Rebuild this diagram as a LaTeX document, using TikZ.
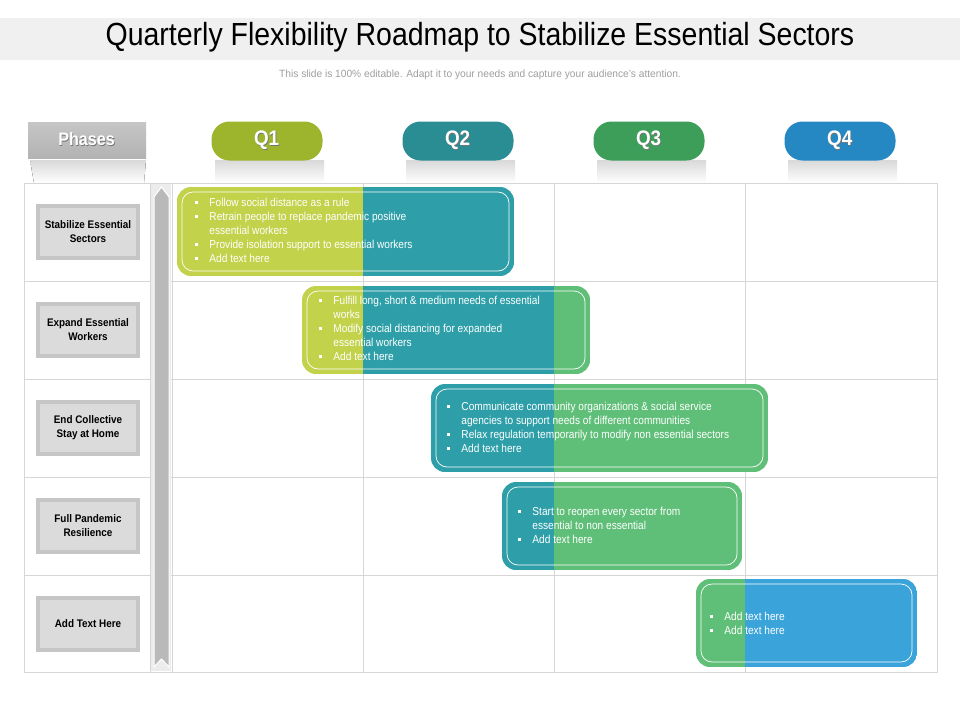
\documentclass[tikz,border=0pt]{standalone}
\usepackage{fontspec}
\setmainfont{Liberation Sans}
\usepackage{graphicx}
\usetikzlibrary{shadows}
\newcommand\cnd[1]{\scalebox{0.9}[1]{#1}}
\definecolor{lime}{HTML}{C2D24A}
\definecolor{tealc}{HTML}{2E9FA8}
\definecolor{grn}{HTML}{5FBF78}
\definecolor{blu}{HTML}{3AA3DA}
\definecolor{qone}{HTML}{9DB52C}
\definecolor{qtwo}{HTML}{2A8D94}
\definecolor{qthree}{HTML}{3D9E5A}
\definecolor{qfour}{HTML}{2588C2}
\definecolor{gridc}{HTML}{D6D6D6}
\tikzset{
  pill/.style={rounded corners=18pt, minimum width=111pt, minimum height=38pt, text=white, font=\fontsize{21}{21}\selectfont\bfseries, inner sep=0},
  lab/.style={draw=gray!45, line width=4pt, fill=gray!28, minimum width=100pt, minimum height=52pt, align=center, font=\fontsize{11}{14}\selectfont\bfseries, inner sep=0, drop shadow={opacity=0.25, shadow xshift=1pt, shadow yshift=-1.5pt}},
  bartext/.style={text=white, anchor=north west, font=\fontsize{11.5}{14}\selectfont, inner sep=0},
  gridline/.style={draw=gridc, line width=1pt},
  inner/.style={draw=white, line width=0.7pt, rounded corners=11pt},
  shad/.style={top color=gray!30, bottom color=white, draw=none}
}
\newcommand\bl{\raisebox{2.2pt}{\rule{3.2pt}{3.2pt}}}
\newenvironment{blist}{\renewcommand\arraystretch{1}\setlength\tabcolsep{0pt}\begin{tabular}{@{}l@{\hspace{13pt}}l@{}}}{\end{tabular}}
\newcommand\gbar[5]{%
  \begin{scope}
    \clip[rounded corners=14pt] (#1,#2) rectangle (#3,#4);
    #5
  \end{scope}
  \draw[inner] (#1+5,#2+5) rectangle (#3-5,#4-5);
}
\newcommand\sh[1]{\tikz[baseline=(x.base)]{\node[inner sep=0,text=black!55] at (0.8pt,-1pt) {#1};\node[inner sep=0] (x) at (0,0) {#1};}}
\begin{document}
\begin{tikzpicture}[x=1pt,y=-1pt]
\useasboundingbox (0,0) rectangle (960,720);
\fill[white] (0,0) rectangle (960,720);
\fill[gray!12] (0,18) rectangle (960,60);
\node (title) at (480,37) {\scalebox{0.89}[1]{\fontsize{32}{32}\selectfont Quarterly Flexibility Roadmap to Stabilize Essential Sectors}};
\node[text=gray!75] (sub) at (480,75) {\scalebox{0.97}[1]{\fontsize{10.5}{11}\selectfont This slide is 100\% editable. Adapt it to your needs and capture your audience's attention.}};
\foreach \c in {267,458,649,840} \fill[shad] (\c-52,160) rectangle (\c+57,183);
\fill[shad] (30,160) -- (146,160) -- (144,183) -- (34,183) -- cycle;
\shade[top color=gray!45, bottom color=gray!60] (28,122) rectangle (146,158);
\draw[white, line width=1pt] (28,159) -- (146,159);
\node[text=white, font=\fontsize{18}{18}\selectfont\bfseries] (ph) at (87,140) {\cnd{\sh{Phases}}};
\node[pill, fill=qone] (q1) at (267,141) {\cnd{\sh{Q1}}};
\node[pill, fill=qtwo] (q2) at (458,141) {\cnd{\sh{Q2}}};
\node[pill, fill=qthree] (q3) at (649,141) {\cnd{\sh{Q3}}};
\node[pill, fill=qfour] (q4) at (840,141) {\cnd{\sh{Q4}}};
\draw[gridline] (24,183) rectangle (937,672);
\foreach \y in {281,379,477,575} \draw[gridline] (24,\y) -- (937,\y);
\foreach \x in {150,172,363,554,745} \draw[gridline] (\x,183) -- (\x,672);
\fill[gray!15] (151,184) rectangle (171,671);
\draw[fill=gray!55, draw=white, line width=1pt] (154,197) -- (161.5,187) -- (169,197) -- (169,667) -- (161.5,659) -- (154,667) -- cycle;
\node[lab] (l1) at (88,232) {\cnd{Stabilize Essential}\\\cnd{Sectors}};
\node[lab] (l2) at (88,330) {\cnd{Expand Essential}\\\cnd{Workers}};
\node[lab] (l3) at (88,428) {\cnd{End Collective}\\\cnd{Stay at Home}};
\node[lab] (l4) at (88,526) {\cnd{Full Pandemic}\\\cnd{Resilience}};
\node[lab] (l5) at (88,624) {\cnd{Add Text Here}};
\gbar{177}{187}{514}{276}{\fill[lime] (177,187) rectangle (363,276); \fill[tealc] (363,187) rectangle (514,276);}
\gbar{302}{286}{590}{374}{\fill[lime] (302,286) rectangle (363,374); \fill[tealc] (363,286) rectangle (554,374); \fill[grn] (554,286) rectangle (590,374);}
\gbar{431}{384}{768}{472}{\fill[tealc] (431,384) rectangle (554,472); \fill[grn] (554,384) rectangle (768,472);}
\gbar{502}{482}{742}{570}{\fill[tealc] (502,482) rectangle (554,570); \fill[grn] (554,482) rectangle (742,570);}
\gbar{696}{579}{917}{667}{\fill[grn] (696,579) rectangle (745,667); \fill[blu] (745,579) rectangle (917,667);}
\node[bartext] (t1) at (195,196) {\scalebox{0.88}[1]{\begin{blist}
\bl & Follow social distance as a rule\\
\bl & Retrain people to replace pandemic positive\\
 & essential workers\\
\bl & Provide isolation support to essential workers\\
\bl & Add text here
\end{blist}}};
\node[bartext] (t2) at (319,294) {\scalebox{0.88}[1]{\begin{blist}
\bl & Fulfill long, short \& medium needs of essential\\
 & works\\
\bl & Modify social distancing for expanded\\
 & essential workers\\
\bl & Add text here
\end{blist}}};
\node[bartext] (t3) at (447,400) {\scalebox{0.88}[1]{\begin{blist}
\bl & Communicate community organizations \& social service\\
 & agencies to support needs of different communities\\
\bl & Relax regulation temporarily to modify non essential sectors\\
\bl & Add text here
\end{blist}}};
\node[bartext] (t4) at (518,505) {\scalebox{0.88}[1]{\begin{blist}
\bl & Start to reopen every sector from\\
 & essential to non essential\\
\bl & Add text here
\end{blist}}};
\node[bartext] (t5) at (710,610) {\scalebox{0.88}[1]{\begin{blist}
\bl & Add text here\\
\bl & Add text here
\end{blist}}};
\end{tikzpicture}
\end{document}
